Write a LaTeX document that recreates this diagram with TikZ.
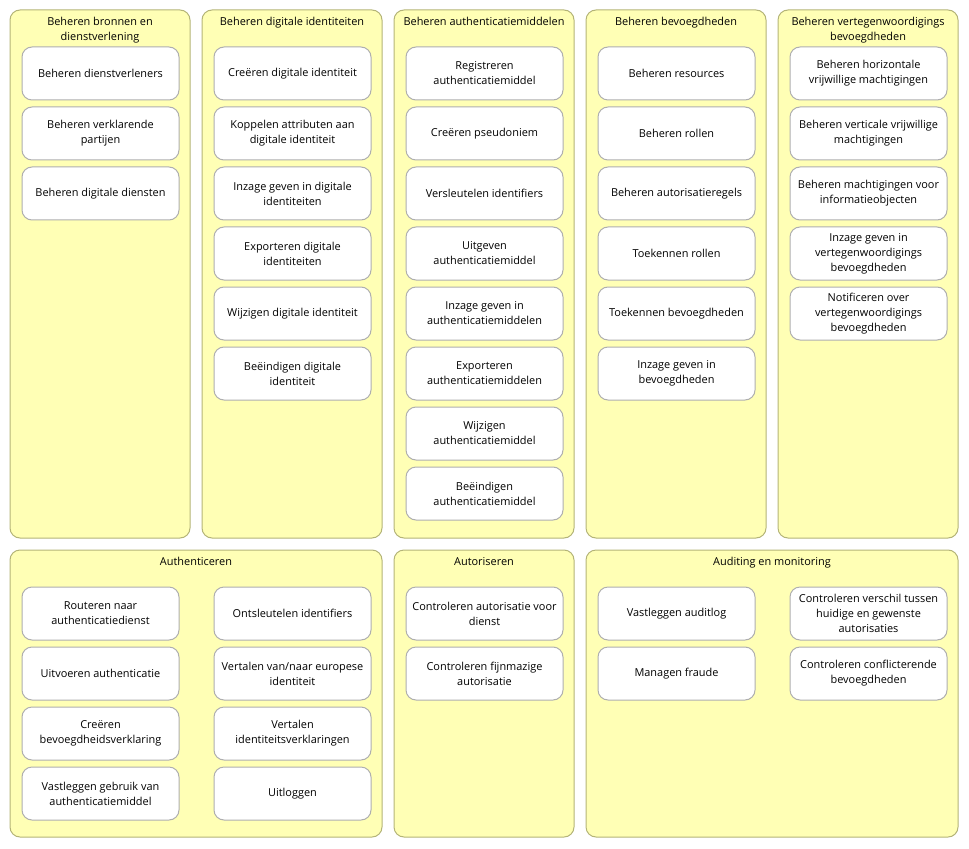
\documentclass[tikz,border=0pt]{standalone}
\usepackage{fontspec}
\setmainfont{Open Sans}
\definecolor{groupfill}{RGB}{255,255,181}
\definecolor{groupline}{RGB}{180,180,120}
\definecolor{procline}{RGB}{175,175,175}
\tikzset{every picture/.style={line width=0.75pt}}
\tikzset{
  group/.style={draw=groupline, fill=groupfill, rounded corners=7.5pt},
  grouptitle/.style={anchor=north, inner sep=0.75pt, align=center, font=\fontsize{8.2}{11.2}\selectfont},
  proc/.style={draw=procline, fill=white, rounded corners=7.5pt, minimum width=117.75pt, minimum height=39.75pt, inner sep=0.75pt, align=center, font=\fontsize{8.2}{11.2}\selectfont}
}
\begin{document}
\begin{tikzpicture}[x=0.75pt,y=0.75pt,yscale=-1,xscale=1]
    \useasboundingbox (0,0) rectangle (969,848);

    %Groups top row
    \draw [group] (10,10) rectangle (190,538) ;
    \draw [group] (202,10) rectangle (382,538) ;
    \draw [group] (394,10) rectangle (574,538) ;
    \draw [group] (586,10) rectangle (766,538) ;
    \draw [group] (778,10) rectangle (958,538) ;
    %Groups bottom row
    \draw [group] (10,550) rectangle (382,837) ;
    \draw [group] (394,550) rectangle (574,837) ;
    \draw [group] (586,550) rectangle (958,837) ;

    % Group titles
    \node [grouptitle] (tbronnen) at (100,16) {Beheren bronnen en\\dienstverlening};
    \node [grouptitle] (tidentiteit) at (292,16) {Beheren digitale identiteiten};
    \node [grouptitle] (tmiddelen) at (484,16) {Beheren authenticatiemiddelen};
    \node [grouptitle] (tbevoegd) at (676,16) {Beheren bevoegdheden};
    \node [grouptitle] (tvertegen) at (868,16) {Beheren vertegenwoordigings\\bevoegdheden};
    \node [grouptitle] (tauthn) at (196,556) {Authenticeren};
    \node [grouptitle] (tautor) at (484,556) {Autoriseren};
    \node [grouptitle] (taudit) at (772,556) {Auditing en monitoring};

    % Beheren bronnen en dienstverlening
    \node [proc] (dienstverleners) at (100.5,73.5) {Beheren dienstverleners};
    \node [proc] (verklarend) at (100.5,133.5) {Beheren verklarende\\partijen};
    \node [proc] (diensten) at (100.5,193.5) {Beheren digitale diensten};

    % Beheren digitale identiteiten
    \node [proc] (creeren) at (292.5,73.5) {Creëren digitale identiteit};
    \node [proc] (koppelen) at (292.5,133.5) {Koppelen attributen aan\\digitale identiteit};
    \node [proc] (inzageid) at (292.5,193.5) {Inzage geven in digitale\\identiteiten};
    \node [proc] (exportid) at (292.5,253.5) {Exporteren digitale\\identiteiten};
    \node [proc] (wijzigid) at (292.5,313.5) {Wijzigen digitale identiteit};
    \node [proc] (eindeid) at (292.5,373.5) {Beëindigen digitale\\identiteit};

    % Beheren authenticatiemiddelen
    \node [proc] (registreren) at (484.5,73.5) {Registreren\\authenticatiemiddel};
    \node [proc] (pseudoniem) at (484.5,133.5) {Creëren pseudoniem};
    \node [proc] (versleutelen) at (484.5,193.5) {Versleutelen identifiers};
    \node [proc] (uitgeven) at (484.5,253.5) {Uitgeven\\authenticatiemiddel};
    \node [proc] (inzagemid) at (484.5,313.5) {Inzage geven in\\authenticatiemiddelen};
    \node [proc] (exportmid) at (484.5,373.5) {Exporteren\\authenticatiemiddelen};
    \node [proc] (wijzigmid) at (484.5,433.5) {Wijzigen\\authenticatiemiddel};
    \node [proc] (eindemid) at (484.5,493.5) {Beëindigen\\authenticatiemiddel};

    % Beheren bevoegdheden
    \node [proc] (resources) at (676.5,73.5) {Beheren resources};
    \node [proc] (rollen) at (676.5,133.5) {Beheren rollen};
    \node [proc] (regels) at (676.5,193.5) {Beheren autorisatieregels};
    \node [proc] (toekrollen) at (676.5,253.5) {Toekennen rollen};
    \node [proc] (toekbevoegd) at (676.5,313.5) {Toekennen bevoegdheden};
    \node [proc] (inzagebev) at (676.5,373.5) {Inzage geven in\\bevoegdheden};

    % Beheren vertegenwoordigings bevoegdheden
    \node [proc] (horizontaal) at (868.5,73.5) {Beheren horizontale\\vrijwillige machtigingen};
    \node [proc] (verticaal) at (868.5,133.5) {Beheren verticale vrijwillige\\machtigingen};
    \node [proc] (infoobject) at (868.5,193.5) {Beheren machtigingen voor\\informatieobjecten};
    \node [proc] (inzageverteg) at (868.5,253.5) {Inzage geven in\\vertegenwoordigings\\bevoegdheden};
    \node [proc] (notificeren) at (868.5,313.5) {Notificeren over\\vertegenwoordigings\\bevoegdheden};

    % Authenticeren
    \node [proc] (routeren) at (100.5,613.5) {Routeren naar\\authenticatiedienst};
    \node [proc] (uitvoeren) at (100.5,673.5) {Uitvoeren authenticatie};
    \node [proc] (verklaring) at (100.5,733.5) {Creëren\\bevoegdheidsverklaring};
    \node [proc] (gebruik) at (100.5,793.5) {Vastleggen gebruik van\\authenticatiemiddel};
    \node [proc] (ontsleutelen) at (292.5,613.5) {Ontsleutelen identifiers};
    \node [proc] (europees) at (292.5,673.5) {Vertalen van/naar europese\\identiteit};
    \node [proc] (vertalen) at (292.5,733.5) {Vertalen\\identiteitsverklaringen};
    \node [proc] (uitloggen) at (292.5,793.5) {Uitloggen};

    % Autoriseren
    \node [proc] (ctrldienst) at (484.5,613.5) {Controleren autorisatie voor\\dienst};
    \node [proc] (fijnmazig) at (484.5,673.5) {Controleren fijnmazige\\autorisatie};

    % Auditing en monitoring
    \node [proc] (auditlog) at (676.5,613.5) {Vastleggen auditlog};
    \node [proc] (fraude) at (676.5,673.5) {Managen fraude};
    \node [proc] (verschil) at (868.5,613.5) {Controleren verschil tussen\\huidige en gewenste\\autorisaties};
    \node [proc] (conflict) at (868.5,673.5) {Controleren conflicterende\\bevoegdheden};

\end{tikzpicture}
\end{document}
